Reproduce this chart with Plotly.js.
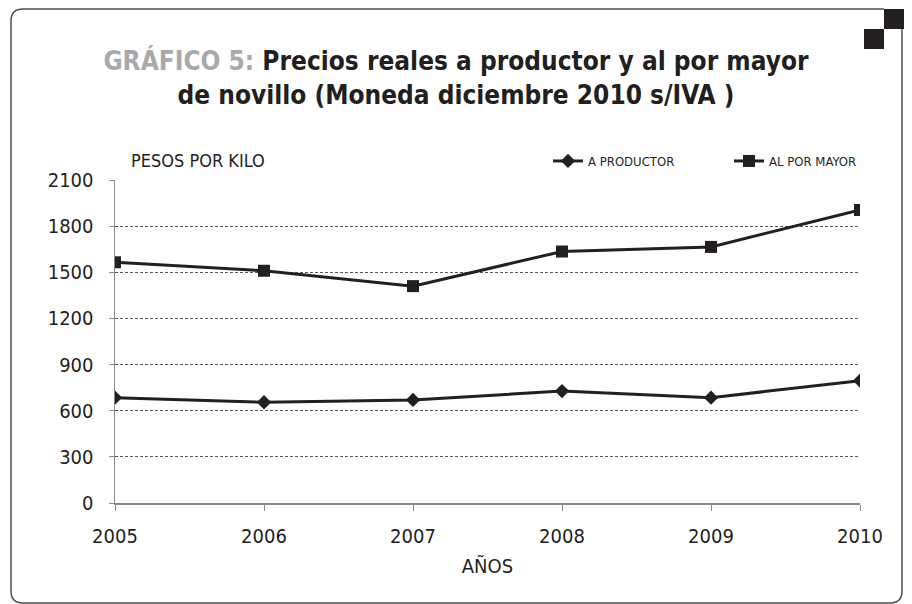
<!DOCTYPE html>
<html>
<head>
<meta charset="utf-8">
<script src="https://cdn.plot.ly/plotly-3.0.1.min.js"></script>
<style>
  html, body { margin: 0; padding: 0; background: #ffffff; overflow: hidden; }
  #graph { width: 912px; height: 604px; }
</style>
</head>
<body>
<div id="graph"></div>
<script>
// values
const years = [2005, 2006, 2007, 2008, 2009, 2010];
const productorPrices = [685, 655, 670, 728, 685, 795];
const mayorPrices = [1565, 1510, 1410, 1635, 1665, 1905];
const yTicks = [0, 300, 600, 900, 1200, 1500, 1800, 2100];

const narrowFont = 'DejaVu Sans Condensed, Liberation Sans Narrow, Arial Narrow, sans-serif';
const ink = '#231f20';

// plot area in pixels, used to place the frame pieces
const plotLeft = 115, plotRight = 860, plotTop = 180, plotBottom = 503;

function px(x) {
    return (x - plotLeft) / (plotRight - plotLeft);
}

function py(y) {
    return (plotBottom - y) / (plotBottom - plotTop);
}

function framePath() {
    const r = 12;
    const left = 11, top = 9, right = 902, bottom = 603;
    return 'M ' + px(884) + ',' + py(top) +
        ' L ' + px(left + r) + ',' + py(top) +
        ' Q ' + px(left) + ',' + py(top) + ' ' + px(left) + ',' + py(top + r) +
        ' L ' + px(left) + ',' + py(bottom - r) +
        ' Q ' + px(left) + ',' + py(bottom) + ' ' + px(left + r) + ',' + py(bottom) +
        ' L ' + px(right - r) + ',' + py(bottom) +
        ' Q ' + px(right) + ',' + py(bottom) + ' ' + px(right) + ',' + py(bottom - r) +
        ' L ' + px(right) + ',' + py(29);
}

function square(x0, y0, x1, y1) {
    return {
        type: 'rect', xref: 'paper', yref: 'paper',
        x0: px(x0), x1: px(x1), y0: py(y1), y1: py(y0),
        fillcolor: ink, line: {width: 0}, layer: 'above'
    };
}

const productorTrace = {
    x: years,
    y: productorPrices,
    mode: 'lines+markers',
    type: 'scatter',
    name: 'A PRODUCTOR',
    line: {color: ink, width: 3},
    marker: {symbol: 'diamond', size: 11, color: ink}
};

const mayorTrace = {
    x: years,
    y: mayorPrices,
    mode: 'lines+markers',
    type: 'scatter',
    name: 'AL POR MAYOR',
    line: {color: ink, width: 3},
    marker: {symbol: 'square', size: 12, color: ink}
};

const layout = {
    width: 912,
    height: 604,
    paper_bgcolor: '#ffffff',
    plot_bgcolor: '#ffffff',
    margin: {l: plotLeft, r: 912 - plotRight, t: plotTop, b: 604 - plotBottom},
    font: {family: narrowFont, color: '#231f20'},

    title: {
        text: '<span style="color:#a7a9ac">GRÁFICO 5:</span> Precios reales a productor y al por mayor<br>de novillo (Moneda diciembre 2010 s/IVA )',
        font: {family: narrowFont, size: 26, color: ink, weight: 'bold'},
        x: 0.5,
        xanchor: 'center',
        y: 1 - 70 / 604,
        yanchor: 'top'
    },

    xaxis: {
        range: [2005, 2010],
        tickvals: years,
        ticktext: years.map(String),
        showgrid: false,
        zeroline: false,
        showline: true,
        linecolor: '#8a8a8a',
        linewidth: 1.5,
        ticks: 'outside',
        ticklen: 6,
        tickcolor: '#8a8a8a',
        tickfont: {family: narrowFont, size: 20, color: '#231f20'},
        ticklabelstandoff: 8,
        fixedrange: true,
        title: {
            text: 'AÑOS',
            font: {family: narrowFont, size: 20, color: '#231f20'},
            standoff: 12
        }
    },

    yaxis: {
        range: [0, 2100],
        tickvals: yTicks,
        showgrid: true,
        gridcolor: '#555555',
        gridwidth: 1,
        griddash: '3px,2px',
        zeroline: false,
        showline: true,
        linecolor: '#8a8a8a',
        linewidth: 1.5,
        ticks: 'outside',
        ticklen: 5,
        tickcolor: '#8a8a8a',
        tickfont: {family: narrowFont, size: 20, color: '#231f20'},
        ticklabelstandoff: 11,
        fixedrange: true
    },

    showlegend: true,
    legend: {
        orientation: 'h',
        xref: 'container',
        yref: 'container',
        x: 548 / 912,
        xanchor: 'left',
        y: 1 - 146 / 604,
        yanchor: 'top',
        bgcolor: 'rgba(0,0,0,0)',
        font: {family: narrowFont, size: 13, color: '#231f20'},
        entrywidth: 136,
        itemwidth: 30,
        traceorder: 'normal'
    },

    annotations: [{
        text: 'PESOS POR KILO',
        xref: 'paper', yref: 'paper',
        x: px(129), y: py(160),
        xanchor: 'left', yanchor: 'middle',
        showarrow: false,
        font: {family: narrowFont, size: 18, color: '#231f20'}
    }],

    shapes: [
        {
            type: 'path', xref: 'paper', yref: 'paper',
            path: framePath(),
            line: {color: '#4d4d4d', width: 1.5},
            layer: 'below'
        },
        square(884, 9, 904, 29),
        square(864, 29, 884, 49)
    ]
};

const config = {
    displayModeBar: false,
    staticPlot: true,
    responsive: false
};

Plotly.newPlot('graph', [productorTrace, mayorTrace], layout, config);
</script>
</body>
</html>
